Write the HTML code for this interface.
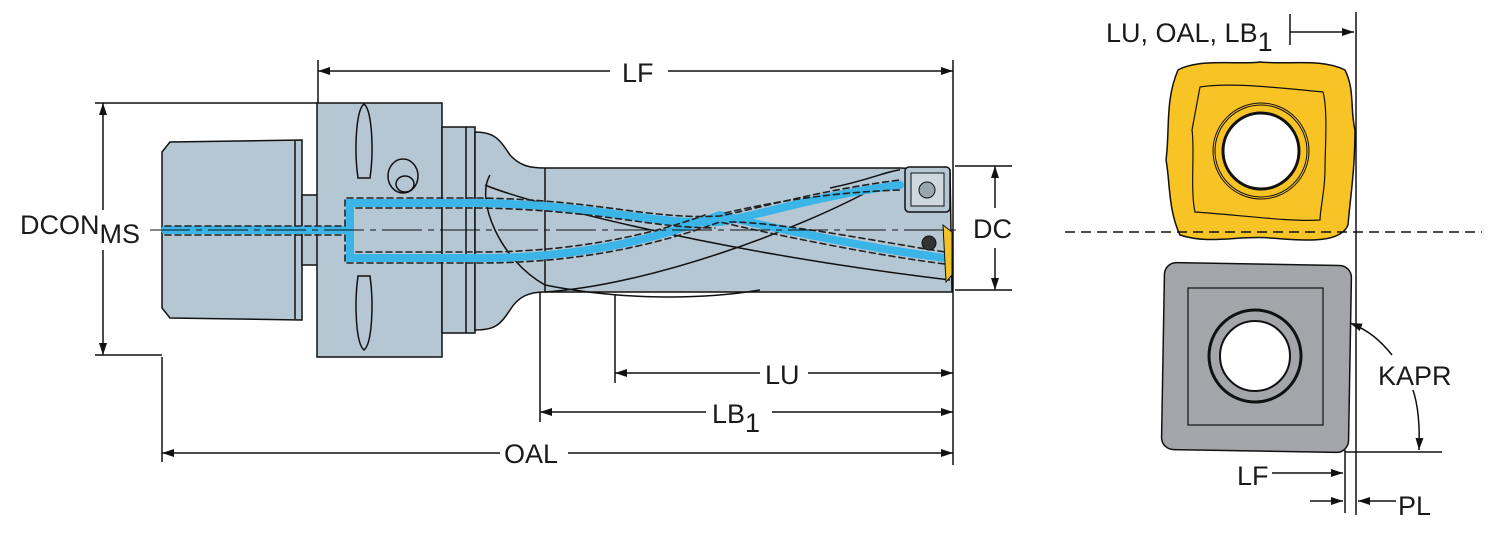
<!DOCTYPE html>
<html><head><style>
body{margin:0;background:#fff}
svg{display:block}
text{font-family:"Liberation Sans",Arial,sans-serif;fill:#1a1a1a}
</style></head><body>
<svg width="1500" height="533" viewBox="0 0 1500 533" xmlns="http://www.w3.org/2000/svg">
<defs>
<marker id="a" viewBox="0 0 12 8" refX="12" refY="4" markerWidth="12" markerHeight="8" orient="auto-start-reverse" markerUnits="userSpaceOnUse"><path d="M0,0 L12,4 L0,8 Z" fill="#111"/></marker>
</defs>
<g stroke="#111" stroke-width="1.5" fill="#b5c7d3">
<path d="M162,152 L170,142 L302,140 L302,320 L170,318 L162,308 Z"/>
<line x1="295" y1="141" x2="295" y2="319"/>
<rect x="302" y="195" width="16" height="70"/>
<rect x="317" y="103" width="125" height="254"/>
<rect x="442" y="127" width="33" height="206"/>
<line x1="466" y1="127" x2="466" y2="333"/>
<path d="M475,132 C495,132 500,140 510,155 C520,166 530,168 545,168 L900,168 L950,170 L952,292 L545,292 C528,292 518,297 510,310 C500,325 495,330 475,330 Z"/>
<line x1="545" y1="168" x2="545" y2="292"/>
<path d="M485,185 C520,200 700,250 950,280" fill="none"/>
<path d="M545,292 C650,285 800,230 880,185" fill="none"/>
<path d="M490,175 C475,200 500,260 545,285 C620,300 700,300 760,290" fill="none"/>
<path d="M830,188 C870,180 890,170 900,170" fill="none"/>
<path d="M364,104 C372,110 374,150 370,178 L358,178 C354,150 356,110 364,104 Z"/>
<path d="M364,350 C372,344 374,304 370,276 L358,276 C354,304 356,344 364,350 Z"/>
<ellipse cx="403" cy="176" rx="15" ry="17"/>
<ellipse cx="405" cy="184" rx="9" ry="8"/>
</g>
<g fill="none" stroke-linecap="round">
<path d="M165,230 L350,230 M350,230 L350,203 L480,203 C600,205 650,225 720,222 C760,215 820,195 900,185 M350,230 L350,258 L480,258 C600,258 680,230 720,215 C780,230 880,250 945,258" stroke="#3bb5e8" stroke-width="8"/>
<path d="M165,226 L345,226 L345,198 L480,198 C600,200 650,220 720,216 C760,208 820,190 900,180 M165,235 L345,235 L345,263 L480,263 C600,263 680,236 720,222 C780,236 880,256 945,264 M356,208 L480,208 C600,210 650,228 715,228 M356,252 L480,252 C600,252 680,224 705,215 M730,222 C780,222 880,242 945,252 M725,213 C780,200 840,192 900,190" stroke="#222" stroke-width="1.6" stroke-dasharray="6,4"/>
</g>
<rect x="905" y="167" width="45" height="45" rx="4" fill="#b5c7d3" stroke="#111" stroke-width="1.5"/>
<rect x="911" y="173" width="33" height="33" fill="#cfd8de" stroke="#111"/>
<circle cx="927" cy="190" r="8" fill="#9aa7b0" stroke="#111"/>
<circle cx="929" cy="243" r="7" fill="#333" stroke="#111"/>
<path d="M943,225 L952,232 L952,275 L946,282 Z" fill="#f2c22a" stroke="#111"/>
<line x1="150" y1="230" x2="960" y2="230" stroke="#111" stroke-width="1" stroke-dasharray="40,6,6,6"/>
<g stroke="#111" stroke-width="1.5" fill="none">
<line x1="318" y1="60" x2="318" y2="103"/>
<line x1="953" y1="60" x2="953" y2="465"/>
<line x1="318" y1="71" x2="610" y2="71" marker-start="url(#a)"/>
<line x1="668" y1="71" x2="953" y2="71" marker-end="url(#a)"/>
<line x1="95" y1="103" x2="317" y2="103"/>
<line x1="95" y1="355" x2="162" y2="355"/>
<line x1="103" y1="103" x2="103" y2="210" marker-start="url(#a)"/>
<line x1="103" y1="250" x2="103" y2="355" marker-end="url(#a)"/>
<line x1="955" y1="166" x2="1012" y2="166"/>
<line x1="955" y1="290" x2="1012" y2="290"/>
<line x1="995" y1="166" x2="995" y2="208" marker-start="url(#a)"/>
<line x1="995" y1="248" x2="995" y2="290" marker-end="url(#a)"/>
<line x1="615" y1="295" x2="615" y2="383"/>
<line x1="540" y1="292" x2="540" y2="422"/>
<line x1="162" y1="357" x2="162" y2="462"/>
<line x1="615" y1="373" x2="760" y2="373" marker-start="url(#a)"/>
<line x1="808" y1="373" x2="953" y2="373" marker-end="url(#a)"/>
<line x1="540" y1="412" x2="706" y2="412" marker-start="url(#a)"/>
<line x1="772" y1="412" x2="953" y2="412" marker-end="url(#a)"/>
<line x1="162" y1="453" x2="500" y2="453" marker-start="url(#a)"/>
<line x1="568" y1="453" x2="953" y2="453" marker-end="url(#a)"/>
</g>
<g font-size="27">
<text x="622" y="82">LF</text>
<text x="20" y="234">DCON<tspan dy="9">MS</tspan></text>
<text x="973" y="238">DC</text>
<text x="765" y="384">LU</text>
<text x="712" y="423">LB<tspan dy="9">1</tspan></text>
<text x="504" y="463">OAL</text>
</g>
<path d="M1178,70 C1200,58 1240,65 1260,62 C1290,65 1320,58 1345,70 C1355,90 1350,110 1355,130 C1355,170 1350,200 1348,225 C1340,245 1300,240 1270,238 C1240,235 1210,245 1180,235 C1168,210 1170,180 1166,160 C1170,130 1165,100 1178,70 Z" fill="#f7c325" stroke="#111" stroke-width="1.5"/>
<path d="M1200,87 C1230,82 1280,88 1323,92 C1328,110 1325,150 1325,170 C1325,190 1320,210 1320,220 C1290,222 1240,215 1195,212 C1190,190 1195,150 1192,130 Z" fill="none" stroke="#111" stroke-width="1.2"/>
<circle cx="1261" cy="151" r="48" fill="none" stroke="#111" stroke-width="1"/>
<circle cx="1261" cy="151" r="46" fill="none" stroke="#111" stroke-width="1"/>
<circle cx="1261" cy="151" r="38" fill="#fff" stroke="#111" stroke-width="3"/>
<rect x="1163" y="264" width="187" height="187" rx="12" fill="#a3a5a8" stroke="#111" stroke-width="1.5" transform="rotate(1 1256 357)"/>
<rect x="1188" y="288" width="135" height="137" fill="none" stroke="#111" stroke-width="1.2"/>
<circle cx="1255" cy="356" r="46" fill="#a3a5a8" stroke="#111" stroke-width="3"/>
<circle cx="1255" cy="356" r="35" fill="#fff" stroke="#111" stroke-width="2"/>
<line x1="1065" y1="232" x2="1482" y2="232" stroke="#111" stroke-width="1.5" stroke-dasharray="10,6"/>
<g stroke="#111" stroke-width="1.5" fill="none">
<line x1="1356" y1="12" x2="1356" y2="515"/>
<line x1="1345" y1="452" x2="1442" y2="452"/>
<line x1="1345" y1="450" x2="1345" y2="513"/>
<line x1="1290" y1="32" x2="1354" y2="32" marker-end="url(#a)"/>
<line x1="1290" y1="14" x2="1290" y2="45"/>
<line x1="1272" y1="473" x2="1343" y2="473" marker-end="url(#a)"/>
<line x1="1310" y1="501" x2="1343" y2="501" marker-end="url(#a)"/>
<line x1="1396" y1="501" x2="1358" y2="501" marker-end="url(#a)"/>
<path d="M1392,355 C1380,340 1368,330 1350,323" marker-end="url(#a)"/>
<path d="M1413,390 C1418,405 1420,425 1419,450" marker-end="url(#a)"/>
</g>
<g font-size="27">
<text x="1106" y="42">LU, OAL, LB<tspan dy="9">1</tspan></text>
<text x="1378" y="385">KAPR</text>
<text x="1237" y="485">LF</text>
<text x="1398" y="515">PL</text>
</g>
</svg>
</body></html>
